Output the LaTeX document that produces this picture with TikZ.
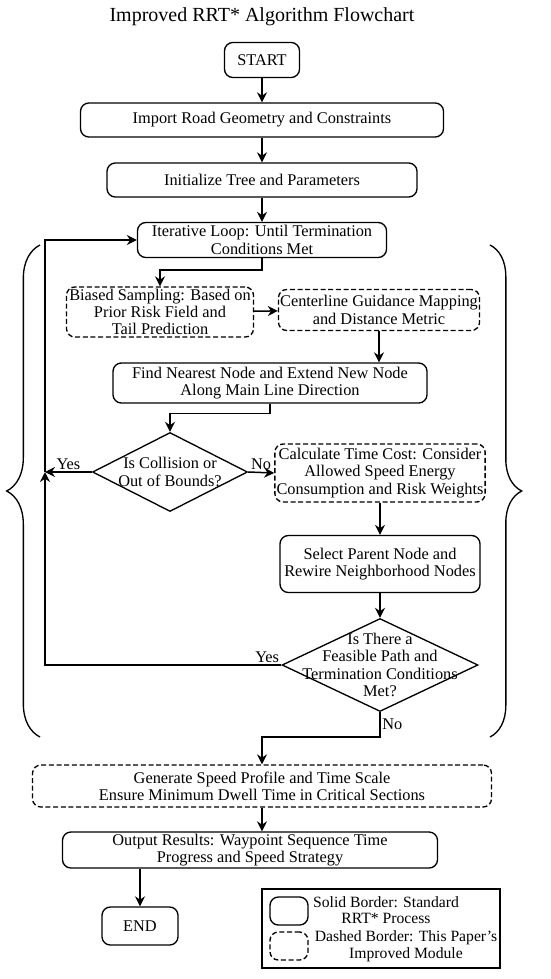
\documentclass[tikz,border=0pt]{standalone}
\usepackage{fontspec}
\setmainfont{Liberation Serif}
\usetikzlibrary{arrows.meta,shapes.geometric,decorations.pathreplacing}

\begin{document}
\begin{tikzpicture}[x=0.6pt,y=-0.6pt,box/.style={draw,line width=0.8pt,rounded corners=5pt,align=center,inner sep=1pt,font=\fontsize{9.8}{10.4}\selectfont},dbox/.style={box,dashed,dash pattern=on 3pt off 1.6pt},dec/.style={draw,line width=0.8pt,diamond,inner sep=0pt},arr/.style={-{Stealth[length=6pt,width=6pt]},line width=0.9pt},lbl/.style={font=\fontsize{9.8}{10.4}\selectfont,inner sep=1pt,align=center}]
\useasboundingbox (0,0) rectangle (550,979);
\node[font=\fontsize{12}{14}\selectfont] (title) at (262,17) {Improved RRT* Algorithm Flowchart};
\node[box,minimum width=45pt,minimum height=21pt] (start) at (262,60) {START};
\node[box,minimum width=217.8pt,minimum height=20.4pt] (import) at (262,120) {Import Road Geometry and Constraints};
\node[box,minimum width=186pt,minimum height=20.4pt] (init) at (262,180) {Initialize Tree and Parameters};
\node[box,minimum width=149.4pt,minimum height=21pt] (loop) at (262,240) {Iterative Loop: Until Termination\\Conditions Met};
\node[dbox,minimum width=112.2pt,minimum height=30pt] (bias) at (160,312) {Biased Sampling: Based on\\Prior Risk Field and\\Tail Prediction};
\node[dbox,minimum width=118.8pt,minimum height=24.6pt] (guide) at (379,310) {Centerline Guidance Mapping\\and Distance Metric};
\node[box,minimum width=188.4pt,minimum height=24pt] (nearest) at (270,383) {Find Nearest Node and Extend New Node\\Along Main Line Direction};
\node[dec,minimum width=93pt,minimum height=47.4pt] (collide) at (170,472) {};
\node[lbl] (collidetxt) at (collide) {Is Collision or\\Out of Bounds?};
\node[dbox,minimum width=120pt,minimum height=34.8pt] (cost) at (380,473) {Calculate Time Cost: Consider\\Allowed Speed Energy\\Consumption and Risk Weights};
\node[box,minimum width=120pt,minimum height=34.2pt] (parent) at (380,564) {Select Parent Node and\\Rewire Neighborhood Nodes};
\node[dec,minimum width=117.6pt,minimum height=55.8pt] (feasible) at (380,665) {};
\node[lbl] (feasibletxt) at (feasible) {Is There a\\Feasible Path and\\Termination Conditions\\Met?};
\node[dbox,minimum width=275.4pt,minimum height=25.2pt] (speed) at (262,786) {Generate Speed Profile and Time Scale\\Ensure Minimum Dwell Time in Critical Sections};
\node[box,minimum width=225pt,minimum height=21.6pt] (output) at (250,850) {Output Results: Waypoint Sequence Time\\Progress and Speed Strategy};
\node[box,minimum width=45.6pt,minimum height=22.8pt] (end) at (140,926) {END};
% legend
\node[draw,line width=0.8pt,minimum width=142.8pt,minimum height=47.4pt] (legend) at (381,928.5) {};
\node[box,minimum width=22.8pt,minimum height=16.8pt] (solidkey) at (289,911) {};
\node[dbox,minimum width=22.8pt,minimum height=16.8pt] (dashkey) at (289,946) {};
\node[lbl,font=\fontsize{9.4}{10}\selectfont] (solidtxt) at (386,910) {Solid Border: Standard\\RRT* Process};
\node[lbl,font=\fontsize{9.4}{10}\selectfont] (dashtxt) at (406,946) {Dashed Border: This Paper's\\Improved Module};
\coordinate (back) at (45,472);
% main flow
\draw[arr] (start)--(import);\draw[arr] (import)--(init);\draw[arr] (init)--(loop);
\draw[arr] (loop.south)--++(0,12)-|(bias.north);\draw[arr] (bias)--(guide);
\draw[arr] (guide.south)--(guide.south|-nearest.north);
\draw[arr] (nearest.south)--++(0,10)-|(collide.north);
\draw[arr] (collide.west)--node[lbl,above]{Yes}(back);
\draw[arr] (collide.east)--node[lbl,above]{No}(cost.west);
\draw[arr] (cost)--(parent);\draw[arr] (parent)--(feasible);
\draw[arr] (feasible.west)--node[lbl,above,pos=0.06]{Yes}(feasible.west-|back)--(back);
\draw[arr] (back)--(back|-loop.west)--(loop.west);
\draw[arr] (feasible.south)--node[lbl,right,pos=0.5]{No}++(0,25)-|(speed.north);
\draw[arr] (speed.south)--(speed.south|-output.north);
\draw[arr] (end.north|-output.south)--(end.north);
% loop braces
\draw[line width=0.8pt,decorate,decoration={brace,amplitude=20pt}] (40,737)--(40,245);
\draw[line width=0.8pt,decorate,decoration={brace,amplitude=19pt}] (490,245)--(490,737);
\end{tikzpicture}
\end{document}
